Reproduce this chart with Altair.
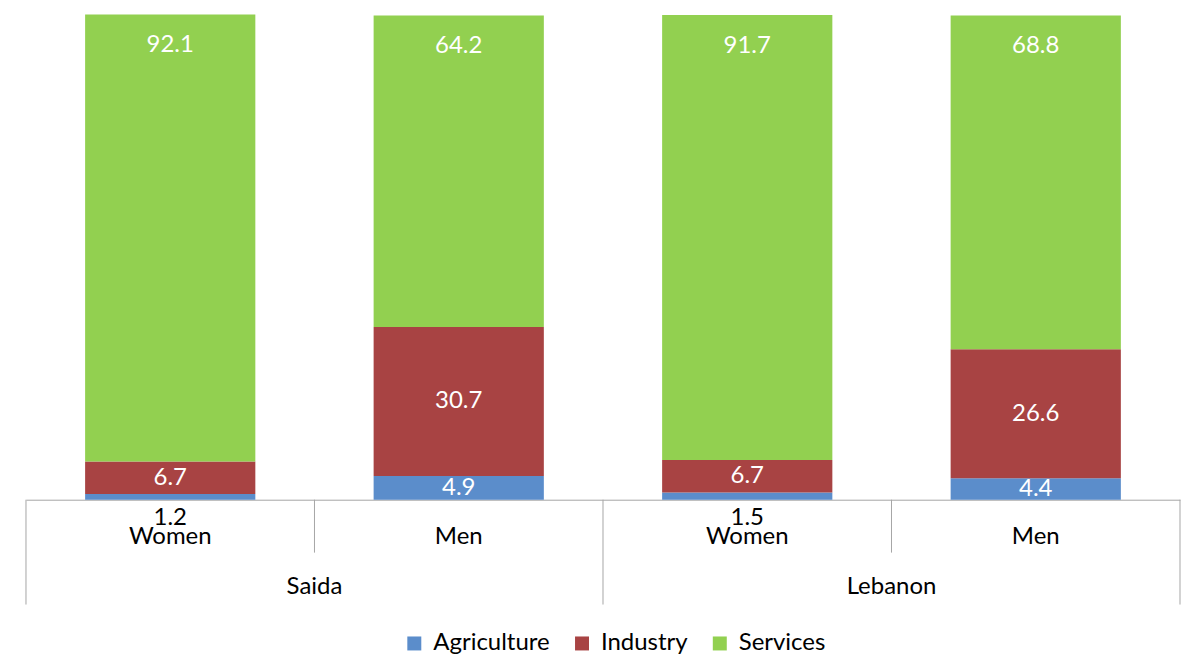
import altair as alt
import pandas as pd

regions = ["Saida", "Saida", "Lebanon", "Lebanon"]
sexes = ["Women", "Men", "Women", "Men"]
sectors = ["Agriculture", "Industry", "Services"]
agriculture = [1.2, 4.9, 1.5, 4.4]
industry = [6.7, 30.7, 6.7, 26.6]
services = [92.1, 64.2, 91.7, 68.8]
colors = ["#5B8DCB", "#A84343", "#92D050"]

keys = [r + "|" + s for r, s in zip(regions, sexes)]
rows = []
for i, k in enumerate(keys):
    for o, (sec, vals) in enumerate(zip(sectors, [agriculture, industry, services])):
        rows.append(dict(key=k, region=regions[i], sex=sexes[i], sector=sec,
                         value=vals[i], ord=o))
df = pd.DataFrame(rows)
cats = pd.DataFrame({"key": keys, "region": regions, "sex": sexes})

W, H = 1156, 486
GRAY = "#A6A6A6"
FONT = "Lato"
FS = 24

axis = alt.Axis(title=None, labelExpr="split(datum.value,'|')[1]", ticks=False,
                domainColor=GRAY, labelFont=FONT, labelFontSize=FS,
                labelColor="black", labelPadding=25, labelAngle=0)
xscale = alt.Scale(paddingInner=0, paddingOuter=0)
yscale = alt.Scale(domain=[0, 100], nice=False)


def X(bp=None):
    if bp is None:
        return alt.X("key:N", sort=keys, scale=xscale, axis=axis)
    return alt.X("key:N", sort=keys, scale=xscale, axis=axis, bandPosition=bp)


base = alt.Chart(df).transform_stack(
    stack="value", groupby=["key"], as_=["y0", "y1"],
    sort=[alt.SortField(field="ord", order="ascending")]
).transform_calculate(mid="(datum.y0+datum.y1)/2")

bars = base.mark_bar(width=alt.RelativeBandSize(0.59)).encode(
    x=X(),
    y=alt.Y("y1:Q", scale=yscale, axis=None),
    y2="y0:Q",
    color=alt.Color("sector:N", scale=alt.Scale(domain=sectors, range=colors),
                    legend=alt.Legend(orient="none", legendX=377, legendY=618,
                                      direction="horizontal", title=None,
                                      symbolType="square", symbolSize=196,
                                      symbolStrokeWidth=0, labelFont=FONT,
                                      labelFontSize=FS, labelColor="black",
                                      columnPadding=20, labelOffset=7)),
    order=alt.Order("ord:Q"),
)

txt = dict(font=FONT, fontSize=FS, baseline="middle", align="center")

lab_top = base.transform_filter("datum.sector=='Services'").mark_text(
    color="white", dy=31, **txt).encode(
    x=X(), y=alt.Y("y1:Q", scale=yscale, axis=None), text="value:Q")

lab_mid = base.transform_filter("datum.sector!='Services' && datum.value>=3").mark_text(
    color="white", **txt).encode(
    x=X(), y=alt.Y("mid:Q", scale=yscale, axis=None), text="value:Q")

lab_low = base.transform_filter("datum.value<3").mark_text(
    color="black", dy=18, **txt).encode(
    x=X(), y=alt.Y("y0:Q", scale=yscale, axis=None), text="value:Q")

long_rules = alt.Chart(cats).transform_filter("datum.sex=='Women'").mark_rule(
    color=GRAY).encode(x=X(0), y=alt.value(H), y2=alt.value(H + 105))
short_rules = alt.Chart(cats).transform_filter("datum.sex=='Men'").mark_rule(
    color=GRAY).encode(x=X(0), y=alt.value(H), y2=alt.value(H + 53))
end_rule = alt.Chart(cats).transform_filter(
    "datum.region=='Lebanon' && datum.sex=='Men'").mark_rule(
    color=GRAY).encode(x=X(1), y=alt.value(H), y2=alt.value(H + 105))

group_labels = alt.Chart(cats).transform_filter("datum.sex=='Men'").mark_text(
    color="black", **txt).encode(x=X(0), y=alt.value(H + 87), text="region:N")

chart = alt.layer(bars, lab_top, lab_mid, lab_low, long_rules, short_rules,
                  end_rule, group_labels).properties(
    width=W, height=H,
    padding={"left": 17, "top": 6, "right": 0, "bottom": 0},
).configure_view(stroke=None)

chart.save("out.html", embed_options={"renderer": "svg", "actions": False})
